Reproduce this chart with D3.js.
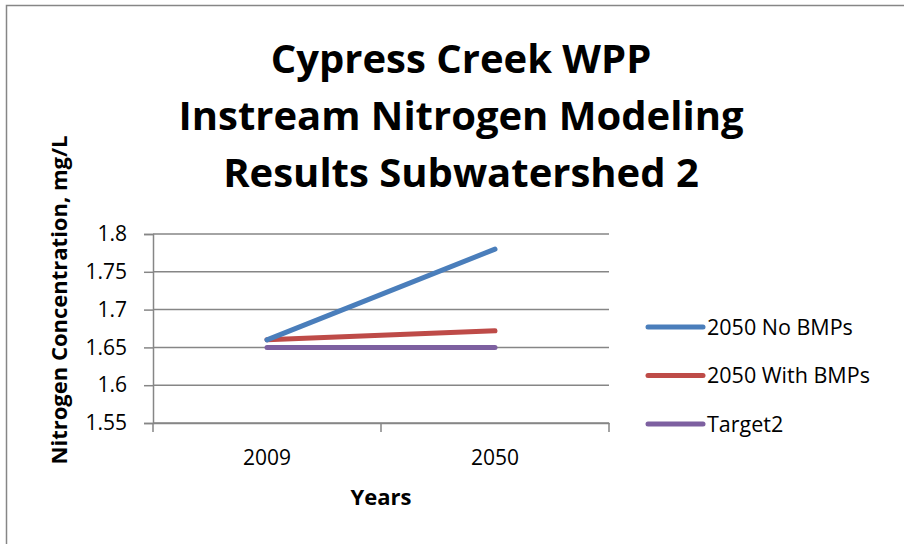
<!DOCTYPE html>
<html lang="en">
<head>
    <meta charset="UTF-8">
    <title>Cypress Creek WPP</title>
    <script src="https://d3js.org/d3.v7.min.js"></script>
    <style>
        body { margin: 0; background: #fff; }
        text { font-family: "Open Sans", sans-serif; fill: #000; }
    </style>
</head>
<body>
    <svg width="904" height="544"></svg>
    <script>
        const years = ['2009', '2050'];
        const seriesNames = ['2050 No BMPs', '2050 With BMPs', 'Target2'];
        const noBmps = [1.66, 1.78];
        const withBmps = [1.66, 1.672];
        const target2 = [1.65, 1.65];
        const yTicks = [1.55, 1.6, 1.65, 1.7, 1.75, 1.8];
        const titleLines = ['Cypress Creek WPP', 'Instream Nitrogen Modeling', 'Results Subwatershed 2'];

        const colors = ['#4a7ebb', '#be4b48', '#7d60a0'];
        const series = [noBmps, withBmps, target2].map((vals, i) => ({
            name: seriesNames[i],
            color: colors[i],
            values: vals.map((v, j) => ({year: years[j], value: v}))
        }));

        const svg = d3.select('svg');
        const grey = '#868686';

        // chart border (runs off the right and bottom edge)
        svg.append('rect')
            .attr('x', 6.5).attr('y', 5.5)
            .attr('width', 920).attr('height', 560)
            .attr('fill', 'none')
            .attr('stroke', grey)
            .attr('stroke-width', 1.5);

        const xScale = d3.scaleBand()
            .domain(years)
            .range([153, 609]);

        const yScale = d3.scaleLinear()
            .domain([1.55, 1.8])
            .range([423, 234]);

        // gridlines
        svg.append('g')
            .selectAll('line')
            .data(yTicks)
            .join('line')
            .attr('x1', 153).attr('x2', 609)
            .attr('y1', d => yScale(d)).attr('y2', d => yScale(d))
            .attr('stroke', grey)
            .attr('stroke-width', 1.5);

        // y axis
        const yAxis = svg.append('g')
            .attr('transform', 'translate(153,0)')
            .call(d3.axisLeft(yScale).tickValues(yTicks).tickSize(9).tickPadding(17).tickFormat(d => d));
        yAxis.selectAll('line, path').attr('stroke', grey).attr('stroke-width', 1.5);
        yAxis.selectAll('text').attr('font-size', 21).style('font-family', null);

        // x axis
        const xAxis = svg.append('g')
            .attr('transform', 'translate(0,423)')
            .call(d3.axisBottom(xScale).tickSize(0).tickPadding(27));
        xAxis.select('.domain').attr('stroke', grey).attr('stroke-width', 1.5);
        xAxis.selectAll('text').attr('font-size', 21).style('font-family', null);
        // tick marks sit at the category boundaries
        xAxis.selectAll('.bound')
            .data([153, 381, 609])
            .join('line')
            .attr('x1', d => d).attr('x2', d => d)
            .attr('y1', 0).attr('y2', 9)
            .attr('stroke', grey)
            .attr('stroke-width', 1.5);

        const line = d3.line()
            .x(d => xScale(d.year) + xScale.bandwidth() / 2)
            .y(d => yScale(d.value));

        svg.append('g')
            .selectAll('path')
            .data(series.slice().reverse())
            .join('path')
            .attr('d', d => line(d.values))
            .attr('fill', 'none')
            .attr('stroke', d => d.color)
            .attr('stroke-width', 5)
            .attr('stroke-linecap', 'round');

        // title
        svg.append('g')
            .selectAll('text')
            .data(titleLines)
            .join('text')
            .attr('x', 461)
            .attr('y', (d, i) => 73 + i * 57)
            .attr('text-anchor', 'middle')
            .attr('font-size', 40)
            .attr('font-weight', 'bold')
            .text(d => d);

        // axis titles
        svg.append('text')
            .attr('x', 381).attr('y', 505)
            .attr('text-anchor', 'middle')
            .attr('font-size', 22)
            .attr('font-weight', 'bold')
            .text('Years');

        svg.append('text')
            .attr('transform', 'translate(67,300) rotate(-90)')
            .attr('text-anchor', 'middle')
            .attr('font-size', 22)
            .attr('font-weight', 'bold')
            .text('Nitrogen Concentration, mg/L');

        // legend
        const legend = svg.append('g')
            .selectAll('g')
            .data(series)
            .join('g')
            .attr('transform', (d, i) => `translate(648,${327 + i * 48.5})`);
        legend.append('line')
            .attr('x1', 0).attr('x2', 55)
            .attr('stroke', d => d.color)
            .attr('stroke-width', 5)
            .attr('stroke-linecap', 'round');
        legend.append('text')
            .attr('x', 59)
            .attr('dy', '0.35em')
            .attr('font-size', 21.5)
            .text(d => d.name);
    </script>
</body>
</html>
